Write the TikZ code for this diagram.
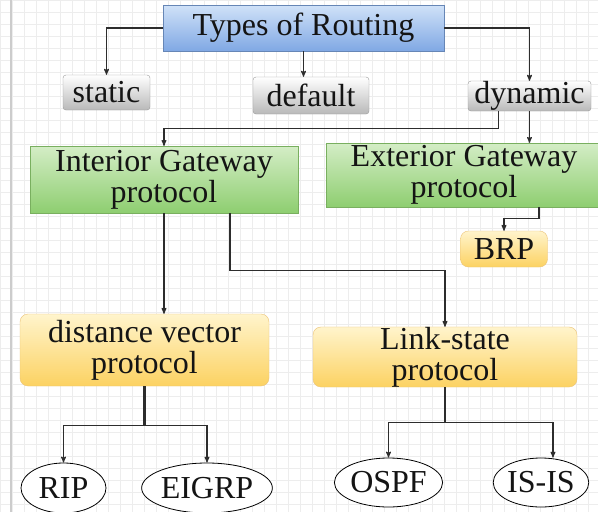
\documentclass[tikz,border=0pt]{standalone}
\usepackage{fontspec}
\setmainfont{Liberation Serif}
\usetikzlibrary{arrows}
\usetikzlibrary{shapes.geometric}

\definecolor{titletop}{RGB}{208,226,248}
\definecolor{titlebot}{RGB}{128,168,228}
\definecolor{greentop}{RGB}{212,237,198}
\definecolor{greenbot}{RGB}{142,206,112}
\definecolor{yeltop}{RGB}{255,244,204}
\definecolor{yelbot}{RGB}{252,210,98}
\definecolor{yeledge}{RGB}{236,196,120}
\definecolor{ink}{RGB}{20,20,20}
\definecolor{wire}{RGB}{45,45,45}

\begin{document}
\begin{tikzpicture}[x=1pt, y=-1pt,
  font=\fontsize{32}{31}\selectfont, text=ink,
  box/.style={inner sep=0pt, align=center, anchor=center},
  titlebox/.style={box, top color=titletop, bottom color=titlebot, draw=titlebot!80!black, thin},
  graybox/.style={box, top color=white, bottom color=gray!55, draw=gray!80, rounded corners=3pt},
  greenbox/.style={box, top color=greentop, bottom color=greenbot, draw=greenbot!85!black, very thin},
  yellowbox/.style={box, top color=yeltop, bottom color=yelbot, draw=yeledge, rounded corners=8pt},
  leaf/.style={ellipse, inner sep=0pt, draw=black, fill=white, thick},
  link/.style={draw=wire, line width=1.1pt, ->, >=stealth'},
  gridline/.style={gray!14, line width=.4pt}]

\useasboundingbox (0,0) rectangle (598,512);
\fill[white] (0,0) rectangle (598,512);
\foreach \g in {0,12,...,598} \draw[gridline] (\g,0) -- (\g,512);
\foreach \g in {0,12,...,512} \draw[gridline] (0,\g) -- (598,\g);
\draw[gray!40, line width=2pt] (11,0) -- (11,512);

\node[titlebox, minimum width=281, minimum height=46] (title) at (303.5,28) {Types of Routing};
\node[graybox, minimum width=87, minimum height=35] (static) at (106.5,92.5) {static};
\node[graybox, minimum width=116, minimum height=37] (default) at (311,95.5) {default};
\node[graybox, minimum width=123, minimum height=30] (dynamic) at (529.5,96) {dynamic};

\node[greenbox, minimum width=268, minimum height=67] (igp) at (164,179.5) {Interior Gateway\\protocol};
\node[greenbox, minimum width=276, minimum height=64] (egp) at (464,175) {Exterior Gateway\\protocol};
\node[yellowbox, minimum width=87, minimum height=36] (brp) at (504,249) {BRP};

\node[yellowbox, minimum width=249, minimum height=72] (dvp) at (144.5,350) {distance vector\\protocol};
\node[yellowbox, minimum width=264, minimum height=60] (lsp) at (445,357) {Link-state\\protocol};

\node[leaf, minimum width=85, minimum height=50] (rip) at (63.5,488) {RIP};
\node[leaf, minimum width=120, minimum height=50] (eigrp) at (207,488) {EIGRP};
\node[leaf, minimum width=87, minimum height=49] (ospf) at (388.5,482.5) {OSPF};
\node[leaf, minimum width=88, minimum height=49] (isis) at (541,482.5) {IS-IS};

\draw[link] (title.west) -| (static.north);
\draw[link] (title.south) -- (title.south |- default.north);
\draw[link] (title.east) -| (dynamic.north);
\draw[link] ([xshift=-31pt]dynamic.south) -- ++(0,17) -| (igp.north);
\draw[link] (dynamic.south) -- (dynamic.south |- egp.north);
\draw[link] ([xshift=75pt]egp.south) -- ++(0,11) -| (brp.north);
\draw[link] (igp.south) -- (igp.south |- dvp.north);
\draw[link] ([xshift=66pt]igp.south) -- ++(0,57) -| (lsp.north);

\coordinate (dvfork) at ([yshift=-39pt]dvp.south);
\coordinate (lsfork) at ([yshift=-35pt]lsp.south);
\draw[wire, line width=2.2pt] (dvp.south) -- (dvfork);
\draw[link] (dvfork) -| (rip.north);
\draw[link] (dvfork) -| (eigrp.north);
\draw[wire, line width=1.1pt] (lsp.south) -- (lsfork);
\draw[link] (lsfork) -| (ospf.north);
\draw[link] (lsfork) -| ([xshift=12pt]isis.north);

\end{tikzpicture}
\end{document}
